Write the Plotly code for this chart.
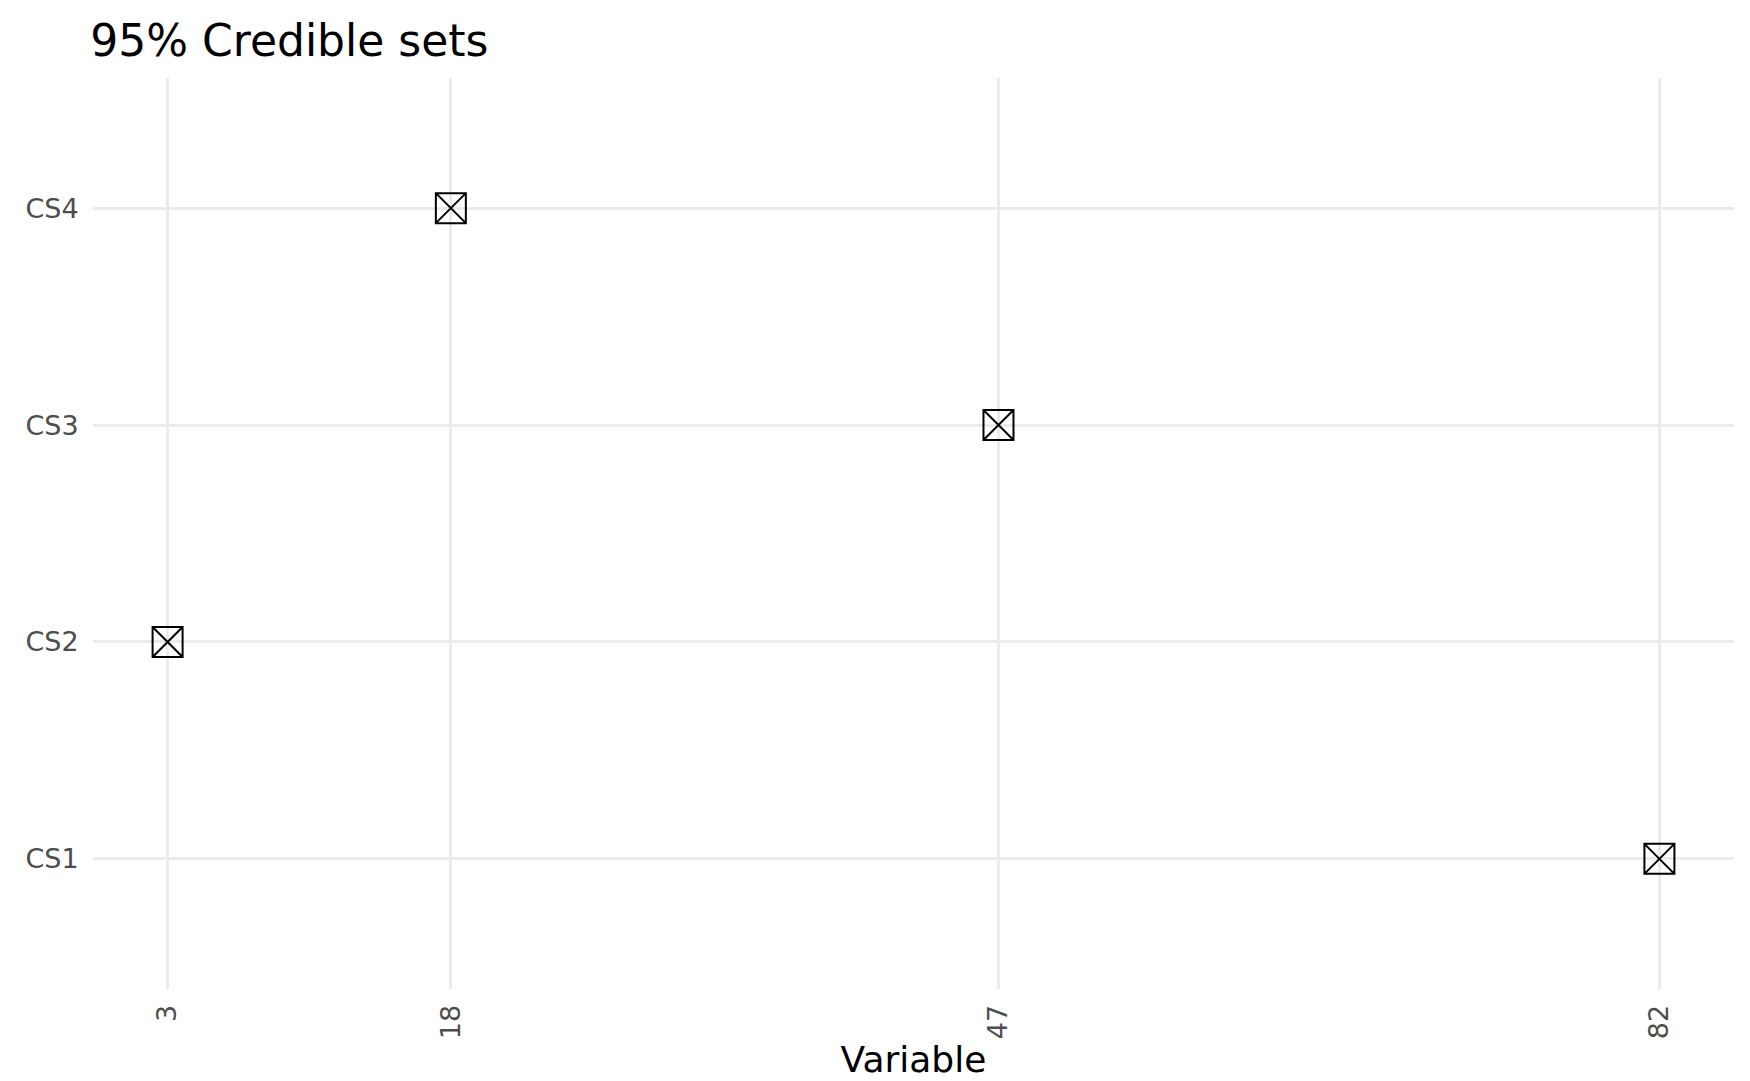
import plotly.graph_objects as go

variables = [82, 3, 47, 18]
sets = ["CS1", "CS2", "CS3", "CS4"]
set_pos = [1, 2, 3, 4]
x_ticks = [3, 18, 47, 82]

fig = go.Figure(go.Scatter(
    x=variables, y=set_pos, mode="markers",
    marker=dict(symbol="square-x-open", size=30, color="black", line=dict(width=2)),
    showlegend=False))

fig.update_layout(
    width=1750, height=1081, plot_bgcolor="white", paper_bgcolor="white",
    font=dict(family="DejaVu Sans", color="#4d4d4d"),
    margin=dict(l=85, r=24, t=70, b=100),
    title=dict(text="95% Credible sets", x=0.047, xanchor="left", y=0.97, yanchor="middle",
               font=dict(size=44, color="black")),
)
fig.update_xaxes(range=[-0.95, 85.95], tickvals=x_ticks, ticktext=[str(v) for v in x_ticks],
                 tickangle=-90, tickfont=dict(size=27), showgrid=True, gridcolor="#ebebeb",
                 gridwidth=2.5, zeroline=False, ticks="outside", tickcolor="white", ticklen=4,
                 title=dict(text="Variable", font=dict(size=36, color="black"), standoff=4))
fig.update_yaxes(range=[0.4, 4.6], tickvals=set_pos, ticktext=sets, tickfont=dict(size=27),
                 showgrid=True, gridcolor="#ebebeb", gridwidth=2.5, zeroline=False,
                 ticks="outside", tickcolor="white", ticklen=8)
fig.write_html("out.html")
